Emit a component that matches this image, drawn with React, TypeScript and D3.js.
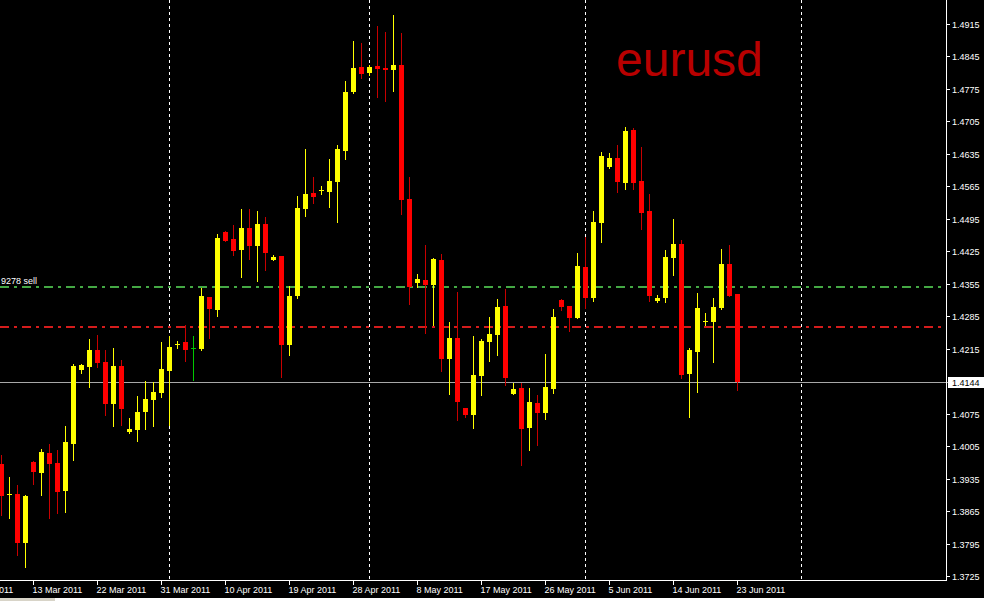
import React, { useEffect } from "react";
import * as d3 from "d3";

const openP = [
  1.3967, 1.3899, 1.3902, 1.3797, 1.3971, 1.3948, 1.399, 1.3969, 1.3909, 1.401,
  1.4169, 1.4176, 1.4212, 1.4186, 1.4096, 1.4178, 1.4036, 1.404, 1.4079, 1.4104,
  1.4119, 1.4167, 1.4224, 1.4229, 1.4217, 1.4215, 1.4326, 1.4299, 1.4467, 1.4451,
  1.4428, 1.4475, 1.4437, 1.4484, 1.4407, 1.4415, 1.4224, 1.4329, 1.4516, 1.4551,
  1.4557, 1.4553, 1.4574, 1.4641, 1.4768, 1.4822, 1.4809, 1.4824, 1.482, 1.4816,
  1.4827, 1.4538, 1.4357, 1.4363, 1.4352, 1.4406, 1.4193, 1.4238, 1.4087, 1.4072,
  1.4156, 1.4229, 1.4245, 1.4307, 1.4117, 1.413, 1.4044, 1.4098, 1.4076, 1.4128,
  1.432, 1.4307, 1.4281, 1.4391, 1.4324, 1.4486, 1.4607, 1.4626, 1.4572, 1.4686,
  1.4577, 1.4512, 1.4318, 1.4324, 1.4411, 1.4441, 1.416, 1.4208, 1.4273, 1.4273,
  1.4303, 1.4398, 1.4333,
];
const highP = [
  1.3986, 1.3939, 1.3921, 1.39, 1.3972, 1.3999, 1.401, 1.3997, 1.4048, 1.4181,
  1.4181, 1.4236, 1.4245, 1.4212, 1.4217, 1.4191, 1.4066, 1.4113, 1.4145, 1.4143,
  1.4229, 1.4242, 1.4232, 1.4266, 1.4242, 1.4346, 1.4327, 1.4462, 1.4469, 1.4482,
  1.4516, 1.4516, 1.4512, 1.4499, 1.4417, 1.4415, 1.435, 1.4544, 1.4645, 1.4585,
  1.4566, 1.4624, 1.4654, 1.4792, 1.4878, 1.4874, 1.4826, 1.491, 1.4897, 1.4934,
  1.4896, 1.4585, 1.4376, 1.4439, 1.4411, 1.4419, 1.4273, 1.4337, 1.4087, 1.4242,
  1.4236, 1.4283, 1.4322, 1.4344, 1.4141, 1.4141, 1.413, 1.4115, 1.4204, 1.4301,
  1.4322, 1.4307, 1.4421, 1.4456, 1.4512, 1.4639, 1.4637, 1.4654, 1.4693, 1.4691,
  1.465, 1.4548, 1.4331, 1.4428, 1.4495, 1.4449, 1.4217, 1.4335, 1.4292, 1.4324,
  1.443, 1.4439, 1.4333,
];
const lowP = [
  1.3856, 1.3851, 1.377, 1.3744, 1.3923, 1.39, 1.3851, 1.3861, 1.3864, 1.3976,
  1.4163, 1.4133, 1.4176, 1.4073, 1.4048, 1.4051, 1.4033, 1.4016, 1.4042, 1.4048,
  1.4111, 1.4051, 1.4217, 1.4189, 1.4148, 1.4213, 1.4239, 1.4286, 1.4448, 1.4418,
  1.437, 1.4409, 1.4361, 1.4385, 1.4407, 1.4154, 1.4202, 1.4325, 1.4502, 1.4529,
  1.4548, 1.452, 1.4488, 1.4624, 1.4766, 1.4799, 1.4806, 1.4758, 1.4749, 1.4771,
  1.4505, 1.4311, 1.4347, 1.4249, 1.4266, 1.4167, 1.4117, 1.4061, 1.4068, 1.4044,
  1.4115, 1.4189, 1.4201, 1.4137, 1.4117, 1.3964, 1.3997, 1.4007, 1.4063, 1.412,
  1.4298, 1.4253, 1.4281, 1.4303, 1.4318, 1.4445, 1.4605, 1.4553, 1.4559, 1.4559,
  1.4473, 1.4318, 1.4316, 1.4316, 1.4374, 1.4152, 1.4068, 1.4122, 1.4266, 1.4186,
  1.4301, 1.4329, 1.4126,
];
const closeP = [
  1.3898, 1.3901, 1.3797, 1.3898, 1.395, 1.3992, 1.3967, 1.3906, 1.4014, 1.4178,
  1.418, 1.4212, 1.4184, 1.4096, 1.4178, 1.4085, 1.4042, 1.4079, 1.4107, 1.4122,
  1.4171, 1.4219, 1.4226, 1.4213, 1.4217, 1.4329, 1.4301, 1.4454, 1.4448, 1.4426,
  1.4475, 1.4437, 1.4484, 1.4422, 1.4413, 1.4224, 1.4329, 1.4518, 1.4548, 1.4542,
  1.4558, 1.4576, 1.4645, 1.4768, 1.482, 1.4807, 1.4822, 1.4818, 1.4816, 1.4827,
  1.4535, 1.4348, 1.4365, 1.4352, 1.4408, 1.4193, 1.4238, 1.41, 1.4072, 1.4158,
  1.4232, 1.4247, 1.4305, 1.4152, 1.4128, 1.4042, 1.41, 1.4076, 1.4132, 1.4283,
  1.4305, 1.4281, 1.4393, 1.4324, 1.4488, 1.463, 1.4626, 1.4574, 1.4684, 1.4572,
  1.4507, 1.4329, 1.4324, 1.4413, 1.4441, 1.4158, 1.4212, 1.4303, 1.4275, 1.4305,
  1.4398, 1.4329, 1.4144,
];

const priceTicks = [
  "1.4915", "1.4845", "1.4775", "1.4705", "1.4635", "1.4565", "1.4495", "1.4425",
  "1.4355", "1.4285", "1.4215", "1.4075", "1.4005", "1.3935", "1.3865", "1.3795", "1.3725",
];
const dateTickBars = [-4, 4, 12, 20, 28, 36, 44, 52, 60, 68, 76, 84, 92];
const dateTickLabels = [
  "3 Mar 2011", "13 Mar 2011", "22 Mar 2011", "31 Mar 2011", "10 Apr 2011", "19 Apr 2011",
  "28 Apr 2011", "8 May 2011", "17 May 2011", "26 May 2011", "5 Jun 2011", "14 Jun 2011", "23 Jun 2011",
];
const separatorBars = [21, 46, 73, 100];
const bidPrice = 1.4144;
const sellLevel = 1.4349;
const stopLevel = 1.4262;
const sellLabel = "9278 sell";
const symbolTitle = "eurusd";

const W = 984;
const H = 601;
const AXIS_X = 946.5;
const AXIS_Y = 580.5;
const FONT = "'Liberation Sans', Arial, sans-serif";

export default function App() {
  useEffect(() => {
    document.body.style.margin = "0";
    document.body.style.background = "#000";
  }, []);

  const y = d3.scaleLinear().domain([1.3725, 1.4915]).range([576, 24]);
  const x = d3.scaleLinear().domain([0, 92]).range([1.5, 737.5]);
  const ry = (p: number) => Math.round(y(p)) + 0.5;

  const candles = openP.map((o, i) => {
    const c = closeP[i];
    const hi = highP[i];
    const lo = lowP[i];
    const xc = x(i);
    const up = c > o;
    const flat = c === o;
    const bodyColor = flat ? "#00c800" : up ? "#ffff00" : "#ff0000";
    const wickColor = flat ? "#00c800" : up ? "#ffff00" : "#c80000";
    const top = Math.round(y(Math.max(o, c)));
    const bot = Math.round(y(Math.min(o, c)));
    const h = Math.max(1, bot - top);
    return (
      <g key={i}>
        <line x1={xc} x2={xc} y1={Math.round(y(hi))} y2={Math.round(y(lo)) + 1} stroke={wickColor} strokeWidth={1} />
        <rect x={xc - 2.5} y={top} width={5} height={h} fill={bodyColor} />
      </g>
    );
  });

  return (
    <svg width={W} height={H} style={{ display: "block" }} shapeRendering="crispEdges">
      <rect x={0} y={0} width={W} height={H} fill="#000" />
      {separatorBars.map((b) => (
        <line key={b} x1={x(b)} x2={x(b)} y1={0} y2={AXIS_Y} stroke="#ffffff" strokeWidth={1} strokeDasharray="3,3" />
      ))}
      <line x1={0} x2={AXIS_X} y1={ry(sellLevel) - 0.5} y2={ry(sellLevel) - 0.5} stroke="#44a844" strokeWidth={2} strokeDasharray="9,5,3,5" />
      <line x1={0} x2={AXIS_X} y1={ry(stopLevel) - 0.5} y2={ry(stopLevel) - 0.5} stroke="#d41c1c" strokeWidth={2} strokeDasharray="9,5,3,5" />
      <text x={1} y={ry(sellLevel) - 3.5} fill="#ffffff" fontFamily={FONT} fontSize={9}>{sellLabel}</text>
      <line x1={0} x2={AXIS_X} y1={ry(bidPrice)} y2={ry(bidPrice)} stroke="#a8a8a8" strokeWidth={1} />
      {candles}
      <text x={616} y={76} fill="#b80000" fontFamily={FONT} fontSize={48} shapeRendering="auto">{symbolTitle}</text>
      <line x1={0} x2={AXIS_X} y1={AXIS_Y} y2={AXIS_Y} stroke="#ffffff" strokeWidth={1} />
      <line x1={AXIS_X} x2={AXIS_X} y1={0} y2={AXIS_Y} stroke="#ffffff" strokeWidth={1} />
      {priceTicks.map((t) => {
        const yy = ry(+t);
        return (
          <g key={t}>
            <line x1={AXIS_X} x2={AXIS_X + 3} y1={yy} y2={yy} stroke="#ffffff" />
            <text x={952} y={yy + 3.5} fill="#ffffff" fontFamily={FONT} fontSize={9}>{t}</text>
          </g>
        );
      })}
      <line x1={AXIS_X} x2={AXIS_X + 3} y1={ry(bidPrice)} y2={ry(bidPrice)} stroke="#a8a8a8" />
      <rect x={948.5} y={ry(bidPrice) - 5} width={35} height={10} fill="#ffffff" stroke="#ffffff" />
      <text x={952} y={ry(bidPrice) + 3.5} fill="#000000" fontFamily={FONT} fontSize={9}>{bidPrice.toFixed(4)}</text>
      {dateTickBars.map((b, i) => (
        <g key={b}>
          <line x1={x(b)} x2={x(b)} y1={AXIS_Y} y2={AXIS_Y + 4} stroke="#ffffff" />
          <text x={x(b) - 1} y={593} fill="#ffffff" fontFamily={FONT} fontSize={9}>{dateTickLabels[i]}</text>
        </g>
      ))}
      <rect x={0} y={598} width={55} height={3} fill="#d8d4c8" />
      <rect x={55} y={598} width={W - 55} height={3} fill="#ffffff" />
    </svg>
  );
}
